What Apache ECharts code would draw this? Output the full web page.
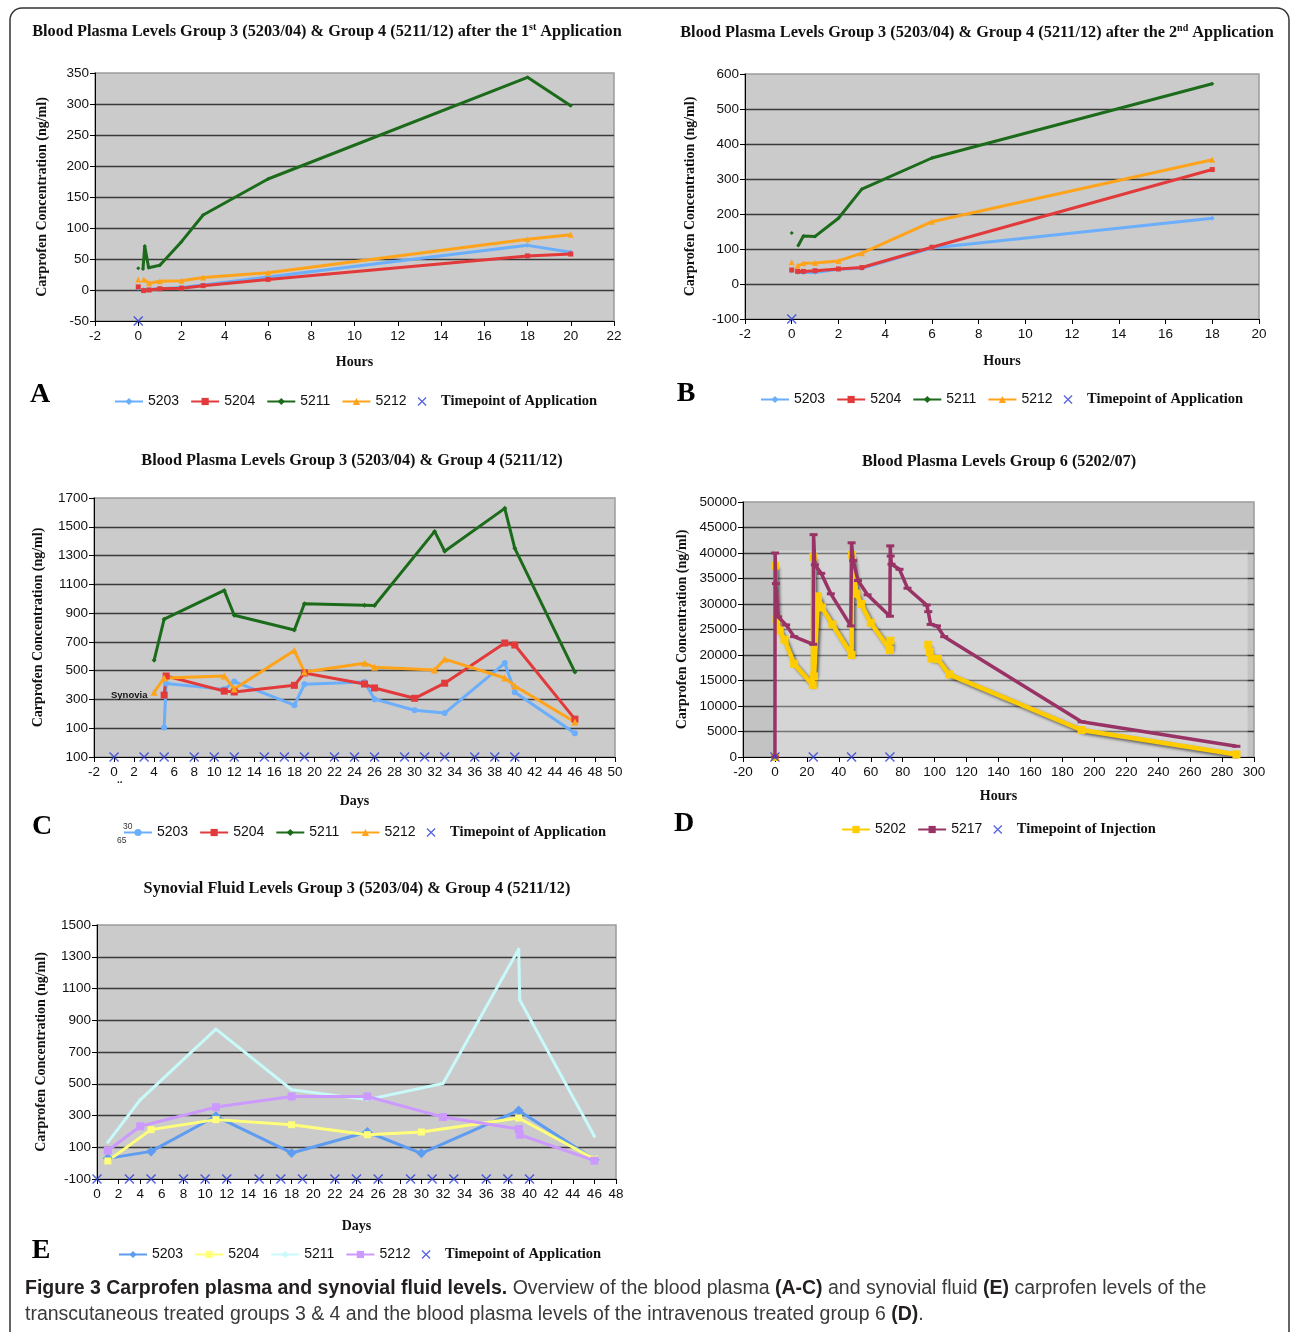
<!DOCTYPE html>
<html><head><meta charset="utf-8">
<script src="https://cdn.jsdelivr.net/npm/echarts@6/dist/echarts.min.js"></script>
<style>html,body{margin:0;padding:0;background:#fff}#c{width:1292px;height:1332px}</style>
</head><body><div id="c"></div>
<script>
// ---------- DATA ----------
// Panel A (hours after 1st application) [hour, ng/ml]; null = gap
const A_5203 = [[0,3],[0.15,null],[0.25,1],[0.5,1],[1,2],[2,4],[3,8],[6,21],[18,72],[20,61]];
const A_5204 = [[0,5],[0.15,null],[0.25,-1],[0.5,0],[1,2],[2,3],[3,7],[6,17],[18,55],[20,58]];
const A_5211 = [[0,35],[0.15,null],[0.22,34],[0.3,71],[0.48,36],[1,40],[2,78],[3,121],[6,179],[18,343],[20,297]];
const A_5212 = [[0,17],[0.15,null],[0.25,17],[0.5,11],[1,14],[2,15],[3,20],[6,28],[18,82],[20,89]];
const A_app = [[0,-50]];
// Panel B (hours after 2nd application)
const B_5203 = [[0,37],[0.15,null],[0.25,33],[0.5,33],[1,33],[2,42],[3,45],[6,103],[18,188]];
const B_5204 = [[0,40],[0.15,null],[0.25,36],[0.5,36],[1,38],[2,43],[3,47],[6,105],[18,327]];
const B_5211 = [[0,146],[0.15,null],[0.28,110],[0.5,137],[1,136],[2,188],[3,271],[6,360],[18,572]];
const B_5212 = [[0,62],[0.15,null],[0.25,52],[0.5,59],[1,60],[2,66],[3,88],[6,178],[18,355]];
const B_app = [[0,-100]];
// Panel C (days)
const C_5203 = [[5,105],[5.2,410],[11,370],[12,424],[18,260],[19,405],[25,422],[26,302],[30,225],[33,205],[39,553],[40,350],[46,65]];
const C_5204 = [[5,330],[5.2,463],[11,358],[12,352],[18,398],[19,484],[25,407],[26,380],[30,308],[33,413],[39,692],[40,678],[46,163]];
const C_5211 = [[4,572],[5,858],[11,1058],[12,885],[18,783],[19,965],[25,955],[26,953],[32,1468],[33,1330],[39,1628],[40,1350],[46,490]];
const C_5212 = [[4,350],[5,449],[11,463],[12,373],[18,640],[19,491],[25,552],[26,523],[32,505],[33,580],[39,449],[40,394],[46,143]];
const appDays = [0,3,5,8,10,12,15,17,19,22,24,26,29,31,33,36,38,40];
const C_appLevel = -100;
// Panel D (hours, intravenous)
const D_5202 = [[0,0],[0.05,null],[0.1,37500],[1,27000],[3,24800],[6,23000],[12,18300],[23.7,14100],[24,39200],[24.5,15800],[27,31500],[29.5,29300],[36,26000],[48,20000],[48.3,39600],[51,32000],[54,30000],[60,26300],[72,21000],[72.3,22800],[84,null],[96,22000],[97,20600],[98,19300],[102,19200],[109,16200],[192,5300],[289,500]];
const D_5217 = [[0,0],[0.1,40000],[0.6,34000],[2,27500],[7,25900],[12,23600],[24,22100],[24.2,43600],[25,37700],[29,36000],[35,32000],[47.5,25700],[48,42000],[49,38500],[52,34600],[58,31800],[72,27600],[72.2,41400],[72.5,39400],[73,37800],[78,36800],[83,33100],[95,29800],[96,28500],[97.5,26000],[101.5,25700],[106,23600],[192,6900],[289,2100]];
const D_injHours = [0,24,48,72];
// Panel E (synovial fluid, days)
const E_5203 = [[1,30],[5,74],[11,295],[18,64],[25,196],[30,62],[39,332],[46,22]];
const E_5204 = [[1,14],[5,211],[11,274],[18,242],[25,179],[30,196],[39,284],[46,26]];
const E_5211 = [[1,131],[4,399],[11,844],[18,462],[25,400],[32,502],[39,1347],[39.1,1028],[46,169]];
const E_5212 = [[1,79],[4,232],[11,353],[18,420],[25,420],[32,290],[39,215],[39.1,179],[46,16]];
const E_appLevel = -100;

// ---------- STYLE ----------
const SANS = 'Liberation Sans, Arial, sans-serif';
const SERIF = 'Liberation Serif, Times New Roman, serif';
const XPATH = 'path://M0,1L1,0L10,9L9,10Z M9,0L10,1L1,10L0,9Z';
const XCOL = '#2a3cd8';
const pts = a => a.map(p => [p[0], p[1] === null ? '-' : p[1]]);

const grids = [
  {left:95, top:73, width:519, height:248},
  {left:745, top:74, width:514, height:245},
  {left:94, top:498, width:521, height:259},
  {left:743, top:502, width:511, height:255},
  {left:97, top:925, width:519, height:254}
].map((g,i) => Object.assign({show:true, backgroundColor: i===3 ? '#c3c3c3' : '#cbcbcb', borderColor:'#9c9c9c', borderWidth:1.5}, g));

function xAx(gi, min, max, interval, name, gap) {
  return {type:'value', gridIndex:gi, min, max, interval, name, nameLocation:'middle', nameGap:gap,
    nameTextStyle:{fontFamily:SERIF, fontWeight:'bold', fontSize:14, color:'#111'},
    axisLine:{onZero:false, lineStyle:{color:'#000', width:1}},
    axisTick:{show:true, length:5, lineStyle:{color:'#000'}},
    axisLabel:{fontFamily:SANS, fontSize:13.5, color:'#111', margin:8, showMinLabel:true, showMaxLabel:true},
    splitLine:{show:false}};
}
function yAx(gi, min, max, interval, gap, fmt) {
  return {type:'value', gridIndex:gi, min, max, interval, name:'Carprofen Concentration (ng/ml)', nameLocation:'middle', nameGap:gap,
    nameTextStyle:{fontFamily:SERIF, fontWeight:'bold', fontSize:14, color:'#111'},
    axisLine:{show:true, onZero:false, lineStyle:{color:'#000', width:1}},
    axisTick:{show:true, length:5, lineStyle:{color:'#000'}},
    axisLabel:{fontFamily:SANS, fontSize:13.5, color:'#111', margin:6, formatter: fmt || (v => String(v))},
    splitLine:{show:true, showMaxLine:false, showMinLine:false, lineStyle:{color:'#3a3a3a', width:1.4}}};
}
function line(name, data, gi, color, symbol, size, width, extra) {
  return Object.assign({type:'line', name, xAxisIndex:gi, yAxisIndex:gi, data:pts(data), color,
    lineStyle:{width, color}, itemStyle:{color}, symbol, symbolSize:size, showSymbol:true,
    connectNulls:false, animation:false, z:3}, extra || {});
}
function xs(name, data, gi) {
  return {type:'scatter', name, xAxisIndex:gi, yAxisIndex:gi, data, symbol:XPATH, symbolSize:10,
    symbolKeepAspect:true, itemStyle:{color:XCOL}, z:6, animation:false, clip:false};
}
const shadow = {shadowColor:'rgba(0,0,0,0.55)', shadowBlur:3, shadowOffsetX:2, shadowOffsetY:2};

const series = [
  line('A_5203', A_5203, 0, '#6aaefc', 'diamond', 5, 3),
  line('A_5204', A_5204, 0, '#e23a3a', 'rect', 5, 3),
  line('A_5211', A_5211, 0, '#1b6b1b', 'diamond', 4, 3),
  line('A_5212', A_5212, 0, '#ffa31a', 'triangle', 6, 3),
  xs('A_Timepoint of Application', A_app, 0),

  line('B_5203', B_5203, 1, '#6aaefc', 'diamond', 5, 3),
  line('B_5204', B_5204, 1, '#e23a3a', 'rect', 5, 3),
  line('B_5211', B_5211, 1, '#1b6b1b', 'diamond', 4, 3),
  line('B_5212', B_5212, 1, '#ffa31a', 'triangle', 6, 3),
  xs('B_Timepoint of Application', B_app, 1),

  line('C_5203', C_5203, 2, '#6aaefc', 'circle', 6, 3),
  line('C_5204', C_5204, 2, '#e23a3a', 'rect', 7, 3),
  line('C_5211', C_5211, 2, '#1b6b1b', 'diamond', 5, 3),
  line('C_5212', C_5212, 2, '#ffa31a', 'triangle', 7, 3),
  xs('C_Timepoint of Application', appDays.map(d => [d, C_appLevel]), 2),

  line('D_5202', D_5202, 3, '#ffcc00', 'rect', 8, 4.5, {
    lineStyle:Object.assign({width:4.5, color:'#ffcc00'}, shadow),
    markArea:{silent:true, itemStyle:{color:'rgba(255,255,255,0.3)'}, data:[[{coord:[0,0]},{coord:[296,40500]}]]}
  }),
  line('D_5217', D_5217, 3, '#993366', 'rect', [8,3], 3.5, {z:4}),
  xs('D_Timepoint of Injection', D_injHours.map(h => [h, 0]), 3),

  line('E_5203', E_5203, 4, '#5d9cf0', 'diamond', 10, 3),
  line('E_5204', E_5204, 4, '#ffff7a', 'rect', 7, 3),
  line('E_5211', E_5211, 4, '#c8fafa', 'diamond', 4, 3),
  line('E_5212', E_5212, 4, '#cc99ff', 'rect', 8, 3),
  xs('E_Timepoint of Application', appDays.map(d => [d, E_appLevel]), 4)
];

function leg(p, left, top, names, last) {
  const data = names.map(n => ({name: p + '_' + n}));
  data.push({name: p + '_' + last, textStyle:{fontFamily:SERIF, fontWeight:'bold', fontSize:14.5, color:'#111'}});
  return {left, top, orient:'horizontal', itemWidth:28, itemHeight:9, itemGap:11, selectedMode:false,
    formatter: n => n.slice(2), data,
    textStyle:{fontFamily:SANS, fontSize:14, color:'#111'}};
}

const titleStyle = (text, x, y) => ({type:'text', x, y, style:{text, fontFamily:SERIF, fontWeight:'bold', fontSize:16.3, fill:'#111',
  align:'center', verticalAlign:'middle', rich:{s:{fontFamily:SERIF, fontWeight:'bold', fontSize:10, fill:'#111', padding:[0,0,10,0]}}}});
const letter = (t, x, y) => ({type:'text', x, y, style:{text:t, fontFamily:SERIF, fontWeight:'bold', fontSize:28, fill:'#000', align:'center', verticalAlign:'middle'}});

const graphic = [
  {type:'rect', shape:{x:10, y:8, width:1279, height:1345, r:12}, style:{fill:'none', stroke:'#333', lineWidth:1.5}, z:-10},
  titleStyle('Blood Plasma Levels Group 3 (5203/04) & Group 4 (5211/12) after the 1{s|st} Application', 327, 32),
  titleStyle('Blood Plasma Levels Group 3 (5203/04) & Group 4 (5211/12) after the 2{s|nd} Application', 977, 33),
  titleStyle('Blood Plasma Levels Group 3 (5203/04) & Group 4 (5211/12)', 352, 461),
  titleStyle('Blood Plasma Levels Group 6 (5202/07)', 999, 462),
  titleStyle('Synovial Fluid Levels Group 3 (5203/04) & Group 4 (5211/12)', 357, 889),
  letter('A', 40, 395), letter('B', 686, 394), letter('C', 42, 827), letter('D', 684, 824), letter('E', 41, 1251),
  {type:'text', x:111, y:695, style:{text:'Synovia', fontFamily:SANS, fontWeight:'bold', fontSize:9.5, fill:'#111', verticalAlign:'middle'}, z:10},
  {type:'text', x:123, y:827, style:{text:'30', fontFamily:SANS, fontSize:8.5, fill:'#333', verticalAlign:'middle'}},
  {type:'text', x:117, y:841, style:{text:'65', fontFamily:SANS, fontSize:8.5, fill:'#333', verticalAlign:'middle'}},
  {type:'text', x:117, y:780, style:{text:'..', fontFamily:SANS, fontWeight:'bold', fontSize:10, fill:'#222', verticalAlign:'middle'}},
  {type:'text', x:25, y:1276, style:{
    text:'{b|Figure 3 Carprofen plasma and synovial fluid levels.} Overview of the blood plasma {b|(A-C)} and synovial fluid {b|(E)} carprofen levels of the\ntranscutaneous treated groups 3 & 4 and the blood plasma levels of the intravenous treated group 6 {b|(D)}.',
    fontFamily:SANS, fontSize:19.5, fill:'#3a3a3a', lineHeight:26, verticalAlign:'top',
    rich:{b:{fontFamily:SANS, fontWeight:'bold', fontSize:19.5, fill:'#231f20', lineHeight:26}}}}
];

const option = {
  animation:false,
  backgroundColor:'#ffffff',
  grid: grids,
  xAxis: [
    xAx(0, -2, 22, 2, 'Hours', 34),
    xAx(1, -2, 20, 2, 'Hours', 35),
    xAx(2, -2, 50, 2, 'Days', 37),
    xAx(3, -20, 300, 20, 'Hours', 32),
    xAx(4, 0, 48, 2, 'Days', 40)
  ],
  yAxis: [
    yAx(0, -50, 350, 50, 46),
    yAx(1, -100, 600, 100, 48),
    yAx(2, -100, 1700, 200, 49, v => String(Math.abs(v))),
    yAx(3, 0, 50000, 5000, 54),
    yAx(4, -100, 1500, 200, 49)
  ],
  legend: [
    leg('A', 109, 389, ['5203','5204','5211','5212'], 'Timepoint of Application'),
    leg('B', 755, 387, ['5203','5204','5211','5212'], 'Timepoint of Application'),
    leg('C', 118, 820, ['5203','5204','5211','5212'], 'Timepoint of Application'),
    leg('D', 836, 817, ['5202','5217'], 'Timepoint of Injection'),
    leg('E', 113, 1242, ['5203','5204','5211','5212'], 'Timepoint of Application')
  ],
  series,
  graphic
};
const chart = echarts.init(document.getElementById('c'));
chart.setOption(option);
</script>
</body></html>
